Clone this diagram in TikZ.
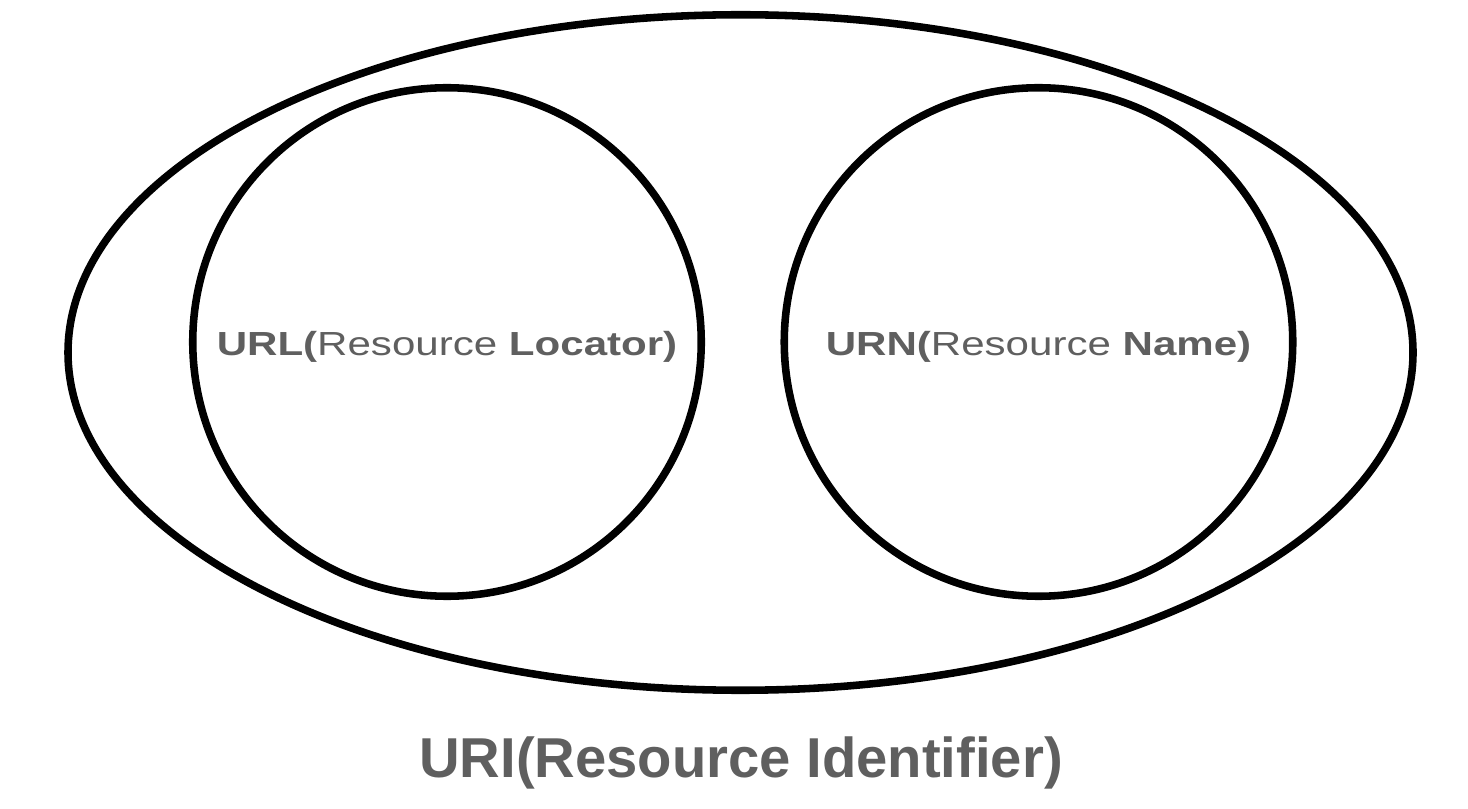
\documentclass[tikz,border=0pt]{standalone}
\usepackage{fontspec}
\setmainfont{Liberation Sans}
\newfontfamily\widesans[FakeStretch=1.26]{Liberation Sans}
\usetikzlibrary{shapes.geometric, positioning}
\definecolor{setline}{HTML}{000000}
\definecolor{labelgray}{HTML}{5F5F5F}
\tikzset{
  outer/.style={draw=setline, ellipse, line width=4.3pt, minimum width=26.9cm,
                minimum height=13.51cm, inner sep=0pt},
  inner/.style={draw=setline, circle, line width=4.3pt, minimum size=10.17cm,
                inner sep=0pt},
  tag/.style={text=labelgray, font=\widesans\fontsize{19}{21}\selectfont},
  title/.style={text=labelgray, font=\fontsize{32}{36}\selectfont\bfseries},
}
\begin{document}
\begin{tikzpicture}
  \useasboundingbox (0,0) rectangle (29.36,16.16);
  \node[outer] (uri) at (14.81,9.11) {};
  \node[inner] (url) at (8.94,9.32) {};
  \node[inner] (urn) at (20.77,9.32) {};
  \node[tag] (url-text) at ([yshift=-0.09cm]url.center) {\textbf{URL(}Resource \textbf{Locator)}};
  \node[tag] (urn-text) at ([yshift=-0.09cm]urn.center) {\textbf{URN(}Resource \textbf{Name)}};
  \node[title] (uri-label) at (14.82,0.9) {URI(Resource Identifier)};
\end{tikzpicture}
\end{document}
